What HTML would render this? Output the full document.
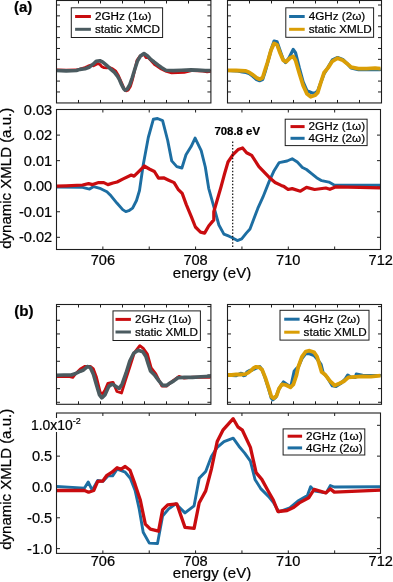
<!DOCTYPE html>
<html><head><meta charset="utf-8"><style>
html,body{margin:0;padding:0;background:#fff;width:393px;height:582px;overflow:hidden}
svg{display:block;will-change:transform}
text{font-family:"Liberation Sans", sans-serif;fill:#000;stroke:#000;stroke-width:0.22px}
</style></head><body>
<svg width="393" height="582" viewBox="0 0 393 582">
<path d="M78.50,0.5v3M78.50,102.95v-3M100.50,0.5v3M100.50,102.95v-3M122.50,0.5v3M122.50,102.95v-3M144.50,0.5v3M144.50,102.95v-3M166.50,0.5v3M166.50,102.95v-3M188.50,0.5v3M188.50,102.95v-3" stroke="#1e1e1e" stroke-width="1" fill="none"/>
<path d="M249.50,0.5v3M249.50,102.95v-3M271.50,0.5v3M271.50,102.95v-3M293.50,0.5v3M293.50,102.95v-3M315.50,0.5v3M315.50,102.95v-3M337.50,0.5v3M337.50,102.95v-3M359.50,0.5v3M359.50,102.95v-3" stroke="#1e1e1e" stroke-width="1" fill="none"/>
<path d="M56.5,5.00h3.5M210.9,5.00h-3.5M56.5,15.87h3.5M210.9,15.87h-3.5M56.5,26.74h3.5M210.9,26.74h-3.5M56.5,37.61h3.5M210.9,37.61h-3.5M56.5,48.48h3.5M210.9,48.48h-3.5M56.5,59.35h3.5M210.9,59.35h-3.5M56.5,70.22h3.5M210.9,70.22h-3.5M56.5,81.09h3.5M210.9,81.09h-3.5M56.5,91.96h3.5M210.9,91.96h-3.5" stroke="#1e1e1e" stroke-width="1" fill="none"/>
<path d="M227.5,5.00h3.5M381.5,5.00h-3.5M227.5,15.87h3.5M381.5,15.87h-3.5M227.5,26.74h3.5M381.5,26.74h-3.5M227.5,37.61h3.5M381.5,37.61h-3.5M227.5,48.48h3.5M381.5,48.48h-3.5M227.5,59.35h3.5M381.5,59.35h-3.5M227.5,70.22h3.5M381.5,70.22h-3.5M227.5,81.09h3.5M381.5,81.09h-3.5M227.5,91.96h3.5M381.5,91.96h-3.5" stroke="#1e1e1e" stroke-width="1" fill="none"/>
<polyline points="56.5,70.0 66.2,70.2 76.4,70.0 80.0,69.0 85.0,67.5 88.0,66.2 91.0,65.2 93.5,65.8 96.0,64.5 98.0,63.5 100.0,64.5 102.0,66.8 104.0,67.6 107.0,67.8 109.0,67.2 112.0,68.5 115.5,70.8 118.5,75.8 121.5,82.5 124.0,88.5 126.0,90.8 128.0,90.2 130.5,86.2 132.5,79.5 134.5,71.0 137.0,60.2 140.0,56.0 144.0,54.2 146.0,57.6 148.0,57.5 151.0,60.5 154.2,64.2 157.0,66.0 161.3,69.0 166.5,71.5 171.7,72.8 184.2,72.3 192.6,70.5 203.0,71.2 207.2,71.9 210.5,71.3" fill="none" stroke="#c90c0f" stroke-width="2.8" stroke-linejoin="round" stroke-linecap="butt"/>
<polyline points="56.5,70.5 66.2,70.9 76.4,70.5 80.0,69.4 85.0,68.8 89.1,67.3 93.1,64.2 96.2,61.2 99.8,60.7 102.8,62.2 106.4,65.2 110.4,68.8 114.5,72.4 117.6,76.4 119.6,80.0 121.1,83.6 123.7,88.7 125.2,90.2 127.2,89.2 129.8,84.6 132.3,77.5 134.8,69.3 137.4,61.2 140.4,56.1 144.0,53.6 147.6,56.1 151.1,59.7 153.9,61.8 157.9,65.0 161.8,67.7 165.8,70.2 173.7,70.6 181.6,70.3 191.0,69.9 197.3,70.1 205.2,70.6 210.5,70.6" fill="none" stroke="#4b5b60" stroke-width="3.6" stroke-linejoin="round" stroke-linecap="butt"/>
<polyline points="227.5,70.5 236.2,70.8 242.3,72.0 246.0,72.5 249.0,73.5 252.5,76.0 256.5,79.5 259.6,80.7 262.6,79.5 265.2,71.5 267.5,63.0 271.0,50.0 274.1,41.1 277.1,41.9 280.2,51.0 283.2,59.5 285.5,62.5 289.0,58.0 293.2,49.5 295.5,52.6 299.3,68.0 303.1,82.0 306.9,90.7 312.3,93.0 315.0,93.0 317.7,91.0 320.9,82.2 324.0,74.0 328.2,67.0 332.3,60.0 337.6,57.5 342.8,59.5 346.9,63.4 351.1,68.0 358.4,69.6 366.8,69.6 375.1,69.6 380.5,69.6" fill="none" stroke="#1d6ea2" stroke-width="3.2" stroke-linejoin="round" stroke-linecap="butt"/>
<polyline points="227.5,70.3 236.2,70.5 245.3,70.8 249.0,72.2 252.5,74.6 256.5,77.7 259.6,79.2 262.6,77.7 265.2,69.5 267.5,62.5 271.0,50.3 274.1,43.4 277.1,44.9 280.2,53.3 283.2,60.2 286.3,61.7 290.1,57.9 293.2,56.4 295.5,60.2 299.3,73.2 303.1,85.4 306.9,93.8 310.7,96.8 315.0,95.3 317.7,92.6 320.9,82.2 324.0,72.8 328.2,67.6 332.3,61.3 337.6,58.2 342.8,60.3 346.9,63.4 351.1,67.1 358.4,68.6 366.8,68.6 375.1,68.2 380.5,68.6" fill="none" stroke="#da9e06" stroke-width="3.8" stroke-linejoin="round" stroke-linecap="butt"/>
<rect x="56.5" y="0.5" width="154.40" height="102.45" fill="none" stroke="#1e1e1e" stroke-width="1.1"/>
<rect x="227.5" y="0.5" width="154.00" height="102.45" fill="none" stroke="#1e1e1e" stroke-width="1.1"/>
<rect x="71.3" y="7.8" width="91.30" height="29.70" fill="#fff" stroke="#1e1e1e" stroke-width="1"/>
<line x1="75.1" y1="16.5" x2="90.9" y2="16.5" stroke="#c90c0f" stroke-width="3"/>
<text x="94.9" y="20.3" font-size="11.7" text-anchor="start" font-weight="normal" >2GHz (1ω)</text>
<line x1="75.1" y1="29.3" x2="90.9" y2="29.3" stroke="#4b5b60" stroke-width="3"/>
<text x="94.9" y="33.1" font-size="11.7" text-anchor="start" font-weight="normal" >static XMCD</text>
<rect x="285.8" y="7.8" width="87.80" height="29.50" fill="#fff" stroke="#1e1e1e" stroke-width="1"/>
<line x1="289.1" y1="16.5" x2="304.7" y2="16.5" stroke="#1d6ea2" stroke-width="3"/>
<text x="308.7" y="20.3" font-size="11.7" text-anchor="start" font-weight="normal" >4GHz (2ω)</text>
<line x1="289.1" y1="29.3" x2="304.7" y2="29.3" stroke="#da9e06" stroke-width="3"/>
<text x="308.7" y="33.1" font-size="11.7" text-anchor="start" font-weight="normal" >static XMLD</text>
<path d="M102.86,109.5v3M102.86,249.5v-3M149.22,109.5v3M149.22,249.5v-3M195.58,109.5v3M195.58,249.5v-3M241.94,109.5v3M241.94,249.5v-3M288.30,109.5v3M288.30,249.5v-3M334.66,109.5v3M334.66,249.5v-3" stroke="#1e1e1e" stroke-width="1" fill="none"/>
<path d="M56.5,135.10h3.5M380.5,135.10h-3.5M56.5,160.65h3.5M380.5,160.65h-3.5M56.5,186.20h3.5M380.5,186.20h-3.5M56.5,211.75h3.5M380.5,211.75h-3.5M56.5,237.30h3.5M380.5,237.30h-3.5" stroke="#1e1e1e" stroke-width="1" fill="none"/>
<polyline points="56.5,187.0 82.5,187.3 89.6,189.1 93.7,186.6 100.8,188.7 106.9,191.7 111.0,195.8 117.1,203.3 122.7,209.6 125.8,211.6 128.8,210.7 132.6,208.1 136.5,200.5 139.5,190.5 143.2,165.0 148.3,137.5 153.4,119.2 157.5,118.5 162.6,120.6 167.7,140.5 171.7,160.9 176.8,166.6 181.9,168.0 186.0,154.8 191.1,146.6 195.1,138.1 201.2,150.7 205.3,167.0 208.7,188.3 213.8,206.6 218.9,225.0 223.9,234.1 229.0,236.2 232.3,237.8 237.3,240.6 241.7,238.8 246.3,233.1 250.0,229.0 257.8,208.4 262.9,197.2 269.0,181.9 274.1,170.7 279.2,162.6 287.1,161.0 292.2,158.7 297.3,162.0 302.4,167.5 306.5,169.5 311.6,173.6 316.6,177.7 321.7,180.7 328.9,182.1 334.6,185.2 380.5,185.2" fill="none" stroke="#1d6ea2" stroke-width="2.9" stroke-linejoin="round" stroke-linecap="butt"/>
<polyline points="56.5,186.2 66.2,185.8 82.5,185.0 88.6,183.6 92.6,184.6 98.7,182.6 103.8,182.6 107.9,184.6 113.0,183.0 117.1,182.0 123.2,178.9 131.3,175.0 134.1,176.2 139.2,171.1 144.2,166.0 149.3,169.0 154.4,171.5 158.5,178.2 163.6,177.8 168.7,180.2 174.1,182.6 178.1,189.3 182.2,193.4 186.3,204.6 191.4,216.8 195.4,227.0 200.5,232.1 204.6,233.1 208.7,226.0 213.8,219.9 213.8,211.7 217.5,199.0 221.0,187.0 224.5,174.0 228.0,162.0 233.0,154.7 238.1,149.6 242.6,147.9 246.6,152.8 251.7,155.4 258.9,166.6 269.0,177.2 275.1,182.5 281.2,185.4 284.1,186.6 288.1,189.5 292.2,188.6 300.4,191.2 306.5,187.4 314.6,189.5 325.8,188.0 329.9,189.3 336.0,186.8 360.0,187.4 380.5,187.8" fill="none" stroke="#c90c0f" stroke-width="3.2" stroke-linejoin="round" stroke-linecap="butt"/>
<line x1="232.7" y1="141.5" x2="232.7" y2="247.5" stroke="#111" stroke-width="1.2" stroke-dasharray="1.6,1.65"/>
<rect x="56.5" y="109.5" width="324.00" height="140.00" fill="none" stroke="#1e1e1e" stroke-width="1.1"/>
<rect x="285.2" y="119.2" width="81.90" height="26.40" fill="#fff" stroke="#1e1e1e" stroke-width="1"/>
<line x1="290.5" y1="126.6" x2="304.6" y2="126.6" stroke="#c90c0f" stroke-width="3"/>
<text x="308.6" y="130.4" font-size="11.7" text-anchor="start" font-weight="normal" >2GHz (1ω)</text>
<line x1="290.5" y1="138.3" x2="304.6" y2="138.3" stroke="#1d6ea2" stroke-width="3"/>
<text x="308.6" y="142.10000000000002" font-size="11.7" text-anchor="start" font-weight="normal" >4GHz (2ω)</text>
<text x="214.4" y="134.5" font-size="11.4" text-anchor="start" font-weight="bold" >708.8 eV</text>
<text x="52.2" y="140.2" font-size="14.6" text-anchor="end" font-weight="normal" >0.02</text>
<text x="52.2" y="165.75" font-size="14.6" text-anchor="end" font-weight="normal" >0.01</text>
<text x="52.2" y="191.29999999999998" font-size="14.6" text-anchor="end" font-weight="normal" >0.00</text>
<text x="52.2" y="216.85" font-size="14.6" text-anchor="end" font-weight="normal" >-0.01</text>
<text x="52.2" y="242.4" font-size="14.6" text-anchor="end" font-weight="normal" >-0.02</text>
<text x="52.2" y="114.69999999999999" font-size="14.6" text-anchor="end" font-weight="normal" >0.03</text>
<text x="102.86" y="264.5" font-size="14.6" text-anchor="middle" font-weight="normal" >706</text>
<text x="195.57999999999998" y="264.5" font-size="14.6" text-anchor="middle" font-weight="normal" >708</text>
<text x="288.3" y="264.5" font-size="14.6" text-anchor="middle" font-weight="normal" >710</text>
<text x="380.8" y="264.5" font-size="14.6" text-anchor="middle" font-weight="normal" >712</text>
<text x="212.0" y="277.6" font-size="15" text-anchor="middle" font-weight="normal" >energy (eV)</text>
<text x="0" y="0" font-size="15" text-anchor="middle" font-weight="normal" transform="translate(10.9,178.3) rotate(-90)">dynamic XMLD (a.u.)</text>
<text x="14.0" y="11.8" font-size="15" text-anchor="start" font-weight="bold" >(a)</text>
<path d="M78.50,304.5v3M78.50,404.3v-3M100.50,304.5v3M100.50,404.3v-3M122.50,304.5v3M122.50,404.3v-3M144.50,304.5v3M144.50,404.3v-3M166.50,304.5v3M166.50,404.3v-3M188.50,304.5v3M188.50,404.3v-3" stroke="#1e1e1e" stroke-width="1" fill="none"/>
<path d="M249.50,304.5v3M249.50,404.3v-3M271.50,304.5v3M271.50,404.3v-3M293.50,304.5v3M293.50,404.3v-3M315.50,304.5v3M315.50,404.3v-3M337.50,304.5v3M337.50,404.3v-3M359.50,304.5v3M359.50,404.3v-3" stroke="#1e1e1e" stroke-width="1" fill="none"/>
<path d="M56.5,306.60h3.5M210.9,306.60h-3.5M56.5,320.27h3.5M210.9,320.27h-3.5M56.5,333.94h3.5M210.9,333.94h-3.5M56.5,347.61h3.5M210.9,347.61h-3.5M56.5,361.28h3.5M210.9,361.28h-3.5M56.5,374.95h3.5M210.9,374.95h-3.5M56.5,388.62h3.5M210.9,388.62h-3.5M56.5,402.29h3.5M210.9,402.29h-3.5" stroke="#1e1e1e" stroke-width="1" fill="none"/>
<path d="M227.5,306.60h3.5M381.5,306.60h-3.5M227.5,320.27h3.5M381.5,320.27h-3.5M227.5,333.94h3.5M381.5,333.94h-3.5M227.5,347.61h3.5M381.5,347.61h-3.5M227.5,361.28h3.5M381.5,361.28h-3.5M227.5,374.95h3.5M381.5,374.95h-3.5M227.5,388.62h3.5M381.5,388.62h-3.5M227.5,402.29h3.5M381.5,402.29h-3.5" stroke="#1e1e1e" stroke-width="1" fill="none"/>
<polyline points="56.5,376.6 69.7,376.6 72.8,377.3 75.8,373.5 80.4,368.9 85.0,366.3 90.3,366.3 93.4,368.9 96.5,377.3 100.3,392.6 102.6,393.8 104.9,390.3 107.9,383.4 112.5,382.3 113.1,382.3 116.9,391.5 121.5,393.0 125.3,380.8 129.8,367.1 134.4,352.6 139.8,345.7 143.6,348.7 147.4,354.1 151.2,367.8 155.8,373.9 161.9,386.1 166.5,386.1 172.8,380.9 179.0,376.3 184.2,378.2 192.6,377.1 210.5,377.4" fill="none" stroke="#c90c0f" stroke-width="2.8" stroke-linejoin="round" stroke-linecap="butt"/>
<polyline points="56.5,375.2 63.6,375.0 71.3,375.0 75.8,373.5 80.4,371.2 83.5,370.0 87.3,366.6 90.3,367.4 93.4,374.3 96.5,385.0 99.5,394.9 101.8,397.9 104.9,394.9 108.7,386.5 111.8,384.2 113.1,384.6 116.0,386.5 119.2,388.4 122.2,383.9 126.0,373.2 129.8,361.0 133.7,353.3 138.2,350.3 142.8,351.8 145.9,356.4 148.2,364.0 150.5,370.9 154.3,374.7 158.9,380.8 162.7,385.4 166.5,385.4 170.0,383.1 173.8,380.9 178.0,377.8 184.2,377.4 192.6,377.4 200.9,376.7 210.5,376.3" fill="none" stroke="#4b5b60" stroke-width="3.6" stroke-linejoin="round" stroke-linecap="butt"/>
<polyline points="227.5,375.2 236.2,375.6 240.7,373.3 242.0,373.5 243.4,375.6 245.3,375.2 246.8,372.2 249.9,370.3 252.0,370.2 255.2,368.5 259.8,366.7 262.1,369.8 265.2,378.0 269.0,390.0 271.3,398.0 272.8,399.8 276.0,397.0 278.9,389.0 283.5,382.0 288.9,385.8 291.0,386.0 294.2,371.3 296.5,368.5 297.0,369.8 301.9,358.5 305.7,353.5 309.5,353.7 314.1,355.5 317.1,359.0 321.0,364.4 323.0,372.5 327.0,377.0 332.4,385.8 336.0,386.5 340.7,383.5 344.9,379.5 347.7,375.1 351.0,377.4 355.3,377.4 356.3,374.2 362.6,375.3 370.9,375.7 380.5,375.5" fill="none" stroke="#1d6ea2" stroke-width="3.2" stroke-linejoin="round" stroke-linecap="butt"/>
<polyline points="227.5,375.0 231.6,375.0 236.2,374.5 240.7,374.5 245.3,374.1 248.4,372.6 251.4,370.3 253.7,367.9 256.0,366.8 259.1,367.2 262.1,369.8 265.2,377.4 269.0,388.9 271.3,396.5 273.6,398.3 276.6,395.7 278.9,388.9 282.0,384.3 285.8,385.0 290.4,387.3 293.4,384.3 296.5,375.1 298.1,367.5 301.9,356.8 305.7,351.5 309.5,350.7 314.1,352.2 317.1,356.8 319.4,364.4 321.7,372.1 325.5,375.1 330.1,381.2 334.7,385.5 339.3,383.5 343.9,381.2 348.4,377.4 355.3,376.8 362.6,376.3 370.9,376.7 380.5,375.7" fill="none" stroke="#da9e06" stroke-width="3.8" stroke-linejoin="round" stroke-linecap="butt"/>
<rect x="56.5" y="304.5" width="154.40" height="99.80" fill="none" stroke="#1e1e1e" stroke-width="1.1"/>
<rect x="227.5" y="304.5" width="154.00" height="99.80" fill="none" stroke="#1e1e1e" stroke-width="1.1"/>
<rect x="113.0" y="310.9" width="87.40" height="29.60" fill="#fff" stroke="#1e1e1e" stroke-width="1"/>
<line x1="115.5" y1="319.4" x2="130.9" y2="319.4" stroke="#c90c0f" stroke-width="3"/>
<text x="134.9" y="323.2" font-size="11.7" text-anchor="start" font-weight="normal" >2GHz (1ω)</text>
<line x1="115.5" y1="332.0" x2="130.9" y2="332.0" stroke="#4b5b60" stroke-width="3"/>
<text x="134.9" y="335.8" font-size="11.7" text-anchor="start" font-weight="normal" >static XMLD</text>
<rect x="280.0" y="310.3" width="89.00" height="29.80" fill="#fff" stroke="#1e1e1e" stroke-width="1"/>
<line x1="284.2" y1="319.2" x2="299.6" y2="319.2" stroke="#1d6ea2" stroke-width="3"/>
<text x="303.6" y="323.0" font-size="11.7" text-anchor="start" font-weight="normal" >4GHz (2ω)</text>
<line x1="284.2" y1="332.2" x2="299.6" y2="332.2" stroke="#da9e06" stroke-width="3"/>
<text x="303.6" y="336.0" font-size="11.7" text-anchor="start" font-weight="normal" >static XMLD</text>
<path d="M102.86,413.0v3M102.86,553.4v-3M149.22,413.0v3M149.22,553.4v-3M195.58,413.0v3M195.58,553.4v-3M241.94,413.0v3M241.94,553.4v-3M288.30,413.0v3M288.30,553.4v-3M334.66,413.0v3M334.66,553.4v-3" stroke="#1e1e1e" stroke-width="1" fill="none"/>
<path d="M56.5,425.30h3.5M380.5,425.30h-3.5M56.5,456.13h3.5M380.5,456.13h-3.5M56.5,486.96h3.5M380.5,486.96h-3.5M56.5,517.79h3.5M380.5,517.79h-3.5M56.5,548.62h3.5M380.5,548.62h-3.5" stroke="#1e1e1e" stroke-width="1" fill="none"/>
<polyline points="56.5,486.5 84.5,488.1 88.2,482.0 92.2,490.1 97.7,480.4 102.8,481.4 107.9,475.9 112.6,475.9 117.1,469.2 125.2,472.2 130.3,478.3 135.1,490.5 139.2,508.9 143.2,532.3 149.3,543.1 157.5,543.5 162.6,516.0 168.7,508.9 175.8,503.8 185.0,512.9 194.1,505.8 199.2,478.3 205.7,471.4 211.4,456.5 217.2,447.4 224.0,441.6 233.2,438.2 238.9,446.2 244.7,453.1 250.4,461.1 255.0,479.4 260.7,488.6 268.7,496.6 273.3,502.3 277.9,510.3 279.0,511.8 289.8,507.8 297.9,501.0 307.4,495.6 310.6,486.7 314.9,491.0 326.2,492.9 330.3,485.6 334.3,487.0 380.5,486.7" fill="none" stroke="#1d6ea2" stroke-width="2.9" stroke-linejoin="round" stroke-linecap="butt"/>
<polyline points="56.5,490.5 84.5,490.5 88.6,492.2 93.7,490.5 97.7,481.4 102.8,481.0 106.9,475.3 112.0,472.2 117.1,467.7 121.1,469.2 125.2,466.5 130.0,470.2 135.1,484.4 140.2,499.7 145.3,524.1 150.4,529.2 158.5,531.2 162.6,509.9 167.7,504.8 176.8,503.8 185.0,527.4 194.1,528.4 199.2,502.7 205.7,490.9 211.4,469.1 217.2,441.6 222.9,430.2 233.2,418.7 237.8,426.8 242.4,430.2 250.4,447.4 256.1,472.6 261.8,479.4 268.7,492.0 273.3,500.0 277.9,511.5 287.1,510.5 293.9,507.2 299.3,502.9 308.7,497.8 314.1,489.4 325.7,492.9 330.3,488.9 334.3,492.1 380.5,490.2" fill="none" stroke="#c90c0f" stroke-width="3.3" stroke-linejoin="round" stroke-linecap="butt"/>
<rect x="56.5" y="413.0" width="324.00" height="140.40" fill="none" stroke="#1e1e1e" stroke-width="1.1"/>
<rect x="283.1" y="428.9" width="81.70" height="26.10" fill="#fff" stroke="#1e1e1e" stroke-width="1"/>
<line x1="287.6" y1="436.2" x2="302.1" y2="436.2" stroke="#c90c0f" stroke-width="3"/>
<text x="306.1" y="440.0" font-size="11.7" text-anchor="start" font-weight="normal" >2GHz (1ω)</text>
<line x1="287.6" y1="447.9" x2="302.1" y2="447.9" stroke="#1d6ea2" stroke-width="3"/>
<text x="306.1" y="451.7" font-size="11.7" text-anchor="start" font-weight="normal" >4GHz (2ω)</text>
<text x="52.2" y="461.23" font-size="14.6" text-anchor="end" font-weight="normal" >0.5</text>
<text x="52.2" y="492.06000000000006" font-size="14.6" text-anchor="end" font-weight="normal" >0.0</text>
<text x="52.2" y="522.89" font-size="14.6" text-anchor="end" font-weight="normal" >-0.5</text>
<text x="52.2" y="553.72" font-size="14.6" text-anchor="end" font-weight="normal" >-1.0</text>
<rect x="54" y="418" width="6" height="14" fill="#fff"/>
<text x="31.0" y="429.6" font-size="13.9" text-anchor="start" font-weight="normal" >1.0x10</text>
<text x="72.8" y="423.8" font-size="9" text-anchor="start" font-weight="normal" >-2</text>
<text x="102.86" y="565.8" font-size="14.6" text-anchor="middle" font-weight="normal" >706</text>
<text x="195.57999999999998" y="565.8" font-size="14.6" text-anchor="middle" font-weight="normal" >708</text>
<text x="288.3" y="565.8" font-size="14.6" text-anchor="middle" font-weight="normal" >710</text>
<text x="380.8" y="565.8" font-size="14.6" text-anchor="middle" font-weight="normal" >712</text>
<text x="212.0" y="578.0" font-size="15" text-anchor="middle" font-weight="normal" >energy (eV)</text>
<text x="0" y="0" font-size="15" text-anchor="middle" font-weight="normal" transform="translate(10.9,479.3) rotate(-90)">dynamic XMLD (a.u.)</text>
<text x="14.2" y="316.3" font-size="15.2" text-anchor="start" font-weight="bold" >(b)</text>
</svg>
</body></html>
